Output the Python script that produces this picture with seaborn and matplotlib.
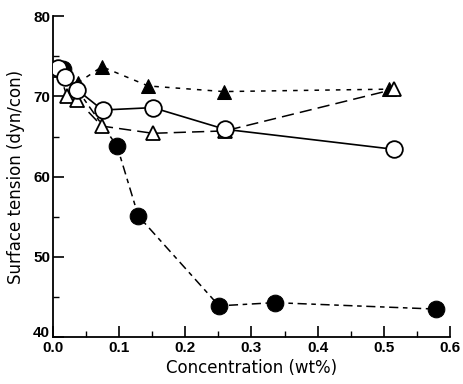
import matplotlib
matplotlib.use("Agg")
import matplotlib.pyplot as plt
import seaborn as sns
import pandas as pd
from matplotlib.ticker import MultipleLocator
import matplotlib.transforms as mtransforms

# Data
open_circle_x = [0.008, 0.019, 0.037, 0.075, 0.151, 0.26, 0.516]
open_circle_y = [73.5, 72.4, 70.8, 68.3, 68.6, 65.9, 63.4]

open_tri_x = [0.008, 0.021, 0.036, 0.074, 0.151, 0.26, 0.516]
open_tri_y = [73.3, 70.1, 69.6, 66.3, 65.4, 65.7, 70.9]

filled_tri_x = [0.012, 0.038, 0.074, 0.144, 0.258, 0.507]
filled_tri_y = [73.4, 71.7, 73.7, 71.3, 70.6, 70.9]

filled_circle_x = [0.015, 0.097, 0.129, 0.251, 0.335, 0.578]
filled_circle_y = [73.4, 63.8, 55.1, 43.9, 44.3, 43.5]

x_ticks = [0.0, 0.1, 0.2, 0.3, 0.4, 0.5, 0.6]
y_ticks = [40, 50, 60, 70, 80]

sns.set_theme(style="ticks")
plt.rcParams['font.family'] = ['Liberation Sans', 'DejaVu Sans']

fig = plt.figure(figsize=(4.64, 3.84), dpi=100)
ax = fig.add_axes([0.114, 0.122, 0.856, 0.836])

sns.lineplot(x=filled_circle_x, y=filled_circle_y, ax=ax, color='black',
             marker='o', markersize=12, markerfacecolor='black', markeredgecolor='black',
             linewidth=1.1, zorder=2, sort=False)
ax.lines[-1].set_dashes([6, 3, 3, 3])

sns.lineplot(x=filled_tri_x, y=filled_tri_y, ax=ax, color='black',
             marker='^', markersize=10, markerfacecolor='black', markeredgecolor='black',
             linewidth=1.1, zorder=3, sort=False)
ax.lines[-1].set_dashes([3, 4])

sns.lineplot(x=open_tri_x, y=open_tri_y, ax=ax, color='black',
             marker='^', markersize=10, markerfacecolor='white', markeredgecolor='black',
             markeredgewidth=1.3, linewidth=1.1, zorder=4, sort=False)
ax.lines[-1].set_dashes([8, 4])

sns.lineplot(x=open_circle_x, y=open_circle_y, ax=ax, color='black',
             marker='o', markersize=12, markerfacecolor='white', markeredgecolor='black',
             markeredgewidth=1.3, linewidth=1.2, zorder=5, sort=False)

ax.set_xlim(0, 0.6)
ax.set_ylim(40, 80)
ax.set_xticks(x_ticks)
ax.set_xticklabels([f"{v:.1f}" for v in x_ticks])
ax.set_yticks(y_ticks)
ax.set_yticklabels([str(v) for v in y_ticks])
ax.xaxis.set_minor_locator(MultipleLocator(0.05))
ax.yaxis.set_minor_locator(MultipleLocator(5))
ax.tick_params(which='major', direction='in', length=8, width=1.2, colors='black',
               labelsize=11, pad=2)
ax.tick_params(axis='x', which='major', pad=3)
ax.tick_params(which='minor', direction='in', length=4, width=1.0, colors='black')
for lbl in ax.get_xticklabels() + ax.get_yticklabels():
    lbl.set_fontweight('bold')
# lift the "40" label a little, as in the reference
lbl40 = ax.get_yticklabels()[0]
lbl40.set_transform(lbl40.get_transform() +
                    mtransforms.ScaledTranslation(0, 4 / 72, fig.dpi_scale_trans))

sns.despine(ax=ax)
for s in ['left', 'bottom']:
    ax.spines[s].set_linewidth(1.3)
    ax.spines[s].set_color('black')

ax.set_xlabel('Concentration (wt%)', fontsize=12, labelpad=3, color='black',
              family=['DejaVu Sans'])
ax.set_ylabel('Surface tension (dyn/con)', fontsize=12, labelpad=6, color='black',
              family=['DejaVu Sans'])

fig.savefig('out.png', dpi=100)
